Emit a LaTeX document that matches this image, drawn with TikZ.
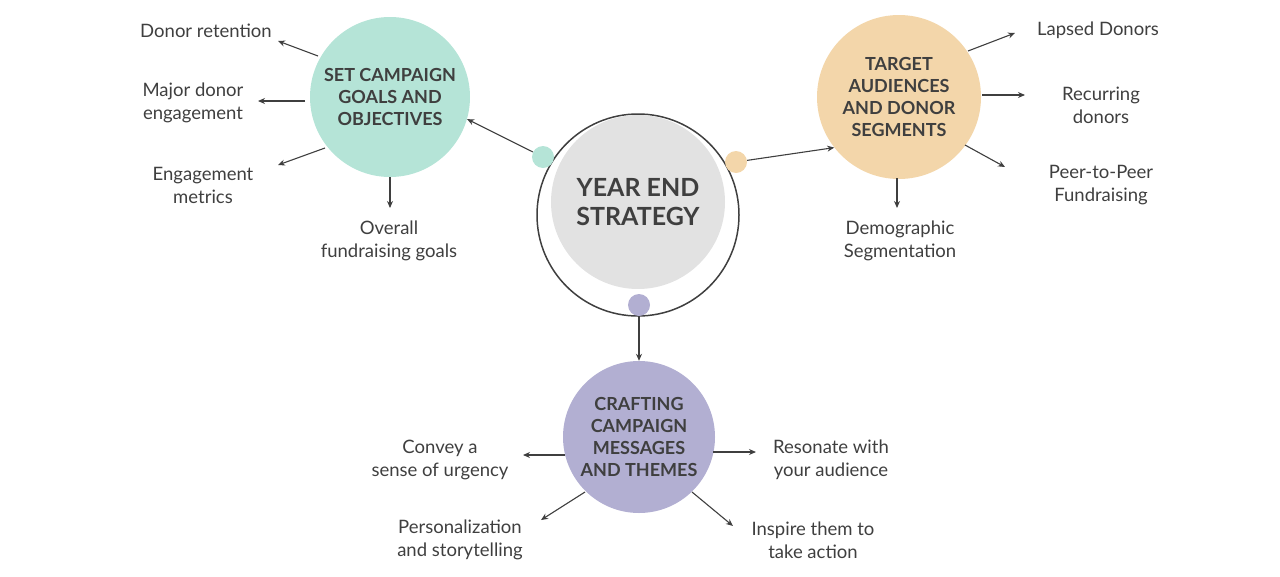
\documentclass[tikz,border=0pt]{standalone}
\usepackage{fontspec}
\setmainfont{Lato}
\usetikzlibrary{arrows.meta,positioning}
\definecolor{teal1}{HTML}{B5E4D7}
\definecolor{tan1}{HTML}{F3D6AA}
\definecolor{purp1}{HTML}{B2AFD2}
\definecolor{grey1}{HTML}{E2E2E2}
\definecolor{ink}{HTML}{3F3F3F}
\begin{document}
\begin{tikzpicture}[x=1pt,y=-1pt,
    hub/.style = {circle, inner sep=0pt, minimum size=#1, text=ink,
                  font=\bfseries\fontsize{18}{22}\selectfont, align=center},
    dot/.style = {circle, inner sep=0pt, minimum size=22pt},
    lbl/.style = {text=ink, font=\fontsize{18.5}{23}\selectfont, align=center},
    arr/.style = {-{Stealth[length=7pt,width=6pt]}, ink, line width=1.1pt},
                        ]
\useasboundingbox (0,0) rectangle (1280,576);
% centre
\node[circle, draw=ink, line width=1.5pt, minimum size=202pt] (ring) at (638,215) {};
\node[hub=174pt, fill=grey1, font=\bfseries\fontsize{25}{29}\selectfont] (core) at (638,202) {YEAR END\\STRATEGY};
\node[dot, fill=teal1] (d1) at (543,157) {};
\node[dot, fill=tan1] (d2) at (736,162) {};
\node[dot, fill=purp1] (d3) at (639,305) {};
% branches
\node[hub=160pt, fill=teal1] (goals) at (390,97) {SET CAMPAIGN\\GOALS AND\\OBJECTIVES};
\node[hub=164pt, fill=tan1] (aud) at (899,97) {TARGET\\AUDIENCES\\AND DONOR\\SEGMENTS};
\node[hub=152pt, fill=purp1] (msg) at (639,437) {CRAFTING\\CAMPAIGN\\MESSAGES\\AND THEMES};
\draw[arr] (d1) -- (goals.-16);
\draw[arr] (d2) -- (aud.218);
\draw[arr] (d3) -- (msg.north);
% labels
\node[lbl] (g1) at (206,31) {Donor retention};
\node[lbl] (g2) at (193,103) {Major donor\\engagement};
\node[lbl] (g3) at (203,185) {Engagement\\metrics};
\node[lbl] (g4) at (389,241) {Overall\\fundraising goals};
\node[lbl] (a1) at (1098,30) {Lapsed Donors};
\node[lbl] (a2) at (1101,105) {Recurring\\donors};
\node[lbl] (a3) at (1101,185) {Peer-to-Peer\\Fundraising};
\node[lbl] (a4) at (900,241) {Demographic\\Segmentation};
\node[lbl] (m1) at (440,460) {Convey a\\sense of urgency};
\node[lbl] (m2) at (831,460) {Resonate with\\your audience};
\node[lbl] (m3) at (460,540) {Personalization\\and storytelling};
\node[lbl] (m4) at (813,540) {Inspire them to\\take action};
\coordinate (g1s) at (318,56);  \coordinate (g1e) at (278,41);
\coordinate (g2s) at (305,101); \coordinate (g2e) at (258,101);
\coordinate (g3s) at (325,148); \coordinate (g3e) at (278,165);
\coordinate (g4e) at (390,208);
\coordinate (a1s) at (968,51);  \coordinate (a1e) at (1015,33);
\coordinate (a2s) at (982,95);  \coordinate (a2e) at (1025,95);
\coordinate (a3s) at (965,145); \coordinate (a3e) at (1005,167);
\coordinate (a4s) at (897,178); \coordinate (a4e) at (897,208);
\coordinate (m1s) at (565,455); \coordinate (m1e) at (523,455);
\coordinate (m2s) at (713,452); \coordinate (m2e) at (756,452);
\coordinate (m3s) at (585,492); \coordinate (m3e) at (541,520);
\coordinate (m4s) at (692,492); \coordinate (m4e) at (733,526);
\draw[arr] (g1s) -- (g1e);
\draw[arr] (g2s) -- (g2e);
\draw[arr] (g3s) -- (g3e);
\draw[arr] (goals.south) -- (g4e);
\draw[arr] (a1s) -- (a1e);
\draw[arr] (a2s) -- (a2e);
\draw[arr] (a3s) -- (a3e);
\draw[arr] (a4s) -- (a4e);
\draw[arr] (m1s) -- (m1e);
\draw[arr] (m2s) -- (m2e);
\draw[arr] (m3s) -- (m3e);
\draw[arr] (m4s) -- (m4e);
\end{tikzpicture}
\end{document}
